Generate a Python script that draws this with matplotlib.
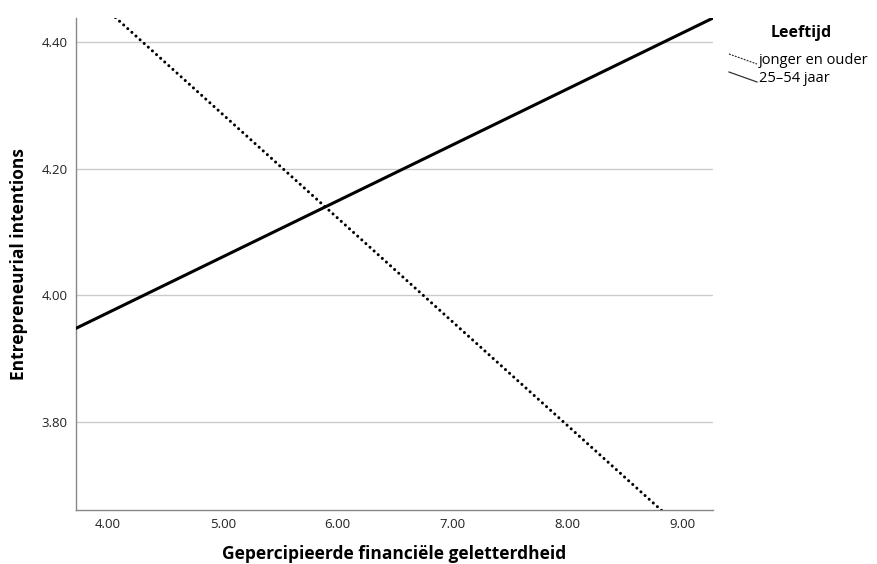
import matplotlib
matplotlib.use("Agg")
import matplotlib.pyplot as plt
from matplotlib.lines import Line2D

plt.rcParams['font.family'] = ['Open Sans', 'DejaVu Sans']

# fitted lines, evaluated at the ends of the x range
x_ends = [3.72, 9.27]
y_jong_oud = [4.495, 3.587]    # jonger en ouder (dotted)
y_middel = [3.948, 4.438]      # 25-54 jaar (solid)

x_ticks = [4.0, 5.0, 6.0, 7.0, 8.0, 9.0]
y_ticks = [3.8, 4.0, 4.2, 4.4]

legend_title = "Leeftijd"
legend_labels = ["jonger en ouder", "25\u201354 jaar"]

fig = plt.figure(figsize=(8.77, 5.64), dpi=100)
ax = fig.add_axes([0.0867, 0.0957, 0.7263, 0.8723])

ax.plot(x_ends, y_jong_oud, color='black', linewidth=2.2,
        linestyle=(0, (0.01, 1.8)), dash_capstyle='round', zorder=3)
ax.plot(x_ends, y_middel, color='black', linewidth=2.2, zorder=3)

ax.set_xlim(3.72, 9.27)
ax.set_ylim(3.661, 4.438)
ax.set_xticks(x_ticks)
ax.set_xticklabels([f"{v:.2f}" for v in x_ticks])
ax.set_yticks(y_ticks)
ax.set_yticklabels([f"{v:.2f}" for v in y_ticks])
ax.tick_params(length=0, labelsize=9.5, pad=6, colors='#222222')
ax.yaxis.grid(True, color='#cccccc', linewidth=1.0)
ax.set_axisbelow(True)
for side in ('top', 'right'):
    ax.spines[side].set_visible(False)
for side in ('left', 'bottom'):
    ax.spines[side].set_color('#888888')
    ax.spines[side].set_linewidth(1.0)

ax.set_xlabel("Gepercipieerde financi\u00eble geletterdheid", fontsize=12.5,
              fontweight='bold', labelpad=10)
ax.set_ylabel("Entrepreneurial intentions", fontsize=12.5,
              fontweight='bold', labelpad=10)

""" Legend drawn by hand, with slanted handles like the original """
W, H = 877, 564
fig.text(801 / W, 1 - 33 / H, legend_title, fontsize=11.5, fontweight='bold',
         ha='center', va='center')
styles = [dict(linestyle=(0, (1.5, 1.0))), dict(linestyle='-')]
ys = [59, 77]
for label, st, yc in zip(legend_labels, styles, ys):
    fig.add_artist(Line2D([729 / W, 757 / W], [1 - (yc - 5) / H, 1 - (yc + 5) / H],
                          color='#333333', linewidth=0.9, **st))
    fig.text(759 / W, 1 - (yc + 1) / H, label, fontsize=10.5, ha='left', va='center')

fig.savefig("out.png", dpi=100)
